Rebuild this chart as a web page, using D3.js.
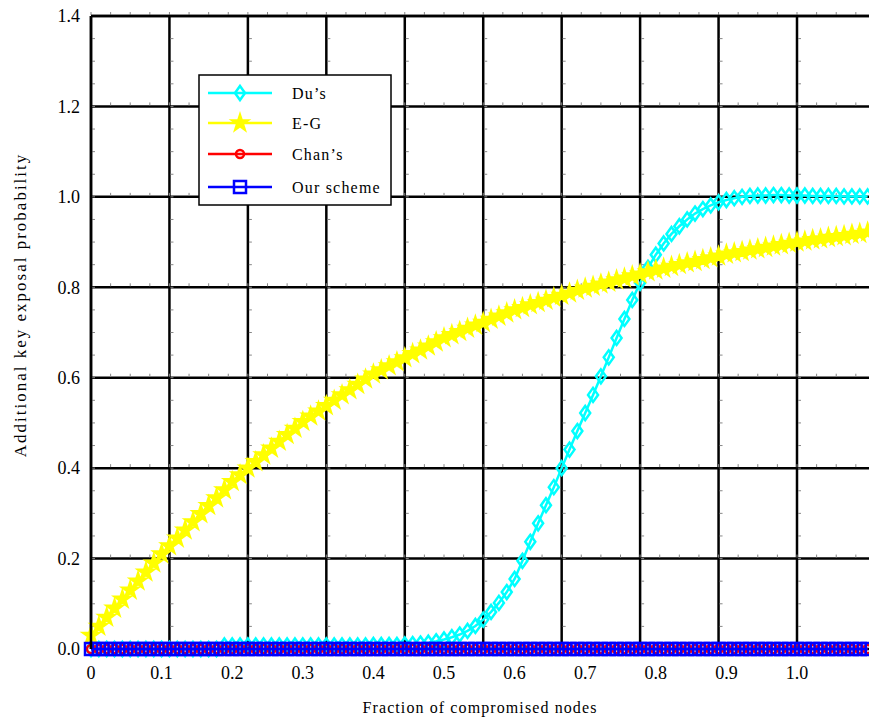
<!DOCTYPE html>
<html>
<head>
<meta charset="utf-8">
<script src="https://cdn.jsdelivr.net/npm/d3@7"></script>
<style>
  body { margin: 0; background: #fff; }
  text { font-family: "Liberation Serif", "Times New Roman", serif; }
</style>
</head>
<body>
<script>

// samples are evenly spaced, 1/90 apart on the x axis (100 points, 0 .. 1.1)
var xValues = d3.range(100).map(i => i / 90);

var dusValues = [
  0, 0, 0, 0, 0, 0, 0, 0, 0, 0,
  0, 0, 0, 0, 0, 0, 0, 0.008, 0.008, 0.008,
  0.008, 0.008, 0.008, 0.008, 0.008, 0.008, 0.008, 0.008, 0.008, 0.008,
  0.008, 0.008, 0.008, 0.008, 0.008, 0.008, 0.009, 0.009, 0.009, 0.009,
  0.010, 0.011, 0.012, 0.014, 0.017, 0.021, 0.026, 0.032, 0.040, 0.051,
  0.065, 0.082, 0.102, 0.126, 0.155, 0.195, 0.237, 0.278, 0.318, 0.358,
  0.400, 0.441, 0.482, 0.522, 0.562, 0.603, 0.645, 0.688, 0.730, 0.772,
  0.810, 0.843, 0.872, 0.897, 0.918, 0.935, 0.950, 0.963, 0.973, 0.981,
  0.988, 0.993, 0.997, 1.000, 1.002, 1.003, 1.003, 1.004, 1.004, 1.003,
  1.003, 1.003, 1.002, 1.002, 1.002, 1.002, 1.001, 1.001, 1.001, 1.001
];

var egValues = [
  0.030, 0.050, 0.070, 0.090, 0.110, 0.130, 0.150, 0.170, 0.190, 0.210,
  0.228, 0.245, 0.263, 0.281, 0.299, 0.317, 0.334, 0.352, 0.370, 0.385,
  0.400, 0.414, 0.429, 0.444, 0.459, 0.474, 0.488, 0.503, 0.515, 0.526,
  0.538, 0.550, 0.562, 0.573, 0.585, 0.597, 0.608, 0.617, 0.626, 0.635,
  0.644, 0.653, 0.661, 0.670, 0.679, 0.688, 0.695, 0.702, 0.709, 0.716,
  0.722, 0.729, 0.736, 0.743, 0.750, 0.755, 0.761, 0.766, 0.771, 0.777,
  0.782, 0.787, 0.793, 0.798, 0.802, 0.807, 0.811, 0.816, 0.820, 0.825,
  0.829, 0.834, 0.838, 0.842, 0.846, 0.850, 0.854, 0.857, 0.861, 0.865,
  0.869, 0.873, 0.876, 0.879, 0.882, 0.885, 0.888, 0.891, 0.894, 0.897,
  0.900, 0.902, 0.905, 0.907, 0.910, 0.912, 0.914, 0.917, 0.919, 0.922
];

var chansValues = [
  0, 0, 0, 0, 0, 0, 0, 0, 0, 0,  0, 0, 0, 0, 0, 0, 0, 0, 0, 0,
  0, 0, 0, 0, 0, 0, 0, 0, 0, 0,  0, 0, 0, 0, 0, 0, 0, 0, 0, 0,
  0, 0, 0, 0, 0, 0, 0, 0, 0, 0,  0, 0, 0, 0, 0, 0, 0, 0, 0, 0,
  0, 0, 0, 0, 0, 0, 0, 0, 0, 0,  0, 0, 0, 0, 0, 0, 0, 0, 0, 0,
  0, 0, 0, 0, 0, 0, 0, 0, 0, 0,  0, 0, 0, 0, 0, 0, 0, 0, 0, 0
];

var oursValues = [
  0, 0, 0, 0, 0, 0, 0, 0, 0, 0,  0, 0, 0, 0, 0, 0, 0, 0, 0, 0,
  0, 0, 0, 0, 0, 0, 0, 0, 0, 0,  0, 0, 0, 0, 0, 0, 0, 0, 0, 0,
  0, 0, 0, 0, 0, 0, 0, 0, 0, 0,  0, 0, 0, 0, 0, 0, 0, 0, 0, 0,
  0, 0, 0, 0, 0, 0, 0, 0, 0, 0,  0, 0, 0, 0, 0, 0, 0, 0, 0, 0,
  0, 0, 0, 0, 0, 0, 0, 0, 0, 0,  0, 0, 0, 0, 0, 0, 0, 0, 0, 0
];

var xTickLabels = [0, 0.1, 0.2, 0.3, 0.4, 0.5, 0.6, 0.7, 0.8, 0.9, 1.0];
var yTickLabels = [0, 0.2, 0.4, 0.6, 0.8, 1.0, 1.2, 1.4];
// vertical grid lines sit at ninths of the 0..1 range
var xGrid = [0, 1/9, 2/9, 3/9, 4/9, 5/9, 6/9, 7/9, 8/9, 1];

var seriesNames = ["Du\u2019s", "E-G", "Chan\u2019s", "Our scheme"];
var seriesColors = ["#00ffff", "#ffff00", "#ff0000", "#0000ff"];

var svgWidth = 869;
var svgHeight = 719;

var margin = { top: 16, right: 0, bottom: 70, left: 91 };
var height = svgHeight - margin.top - margin.bottom;

var svg = d3.select("body")
  .append("svg")
  .attr("width", svgWidth)
  .attr("height", svgHeight);

var chartGroup = svg.append("g")
  .attr("transform", `translate(${margin.left}, ${margin.top})`);

// scales: 0..1 spans 706px, plot runs off the right edge
var xScale = d3.scaleLinear().domain([0, 1]).range([0, 706]);
var yScale = d3.scaleLinear().domain([0, 1.4]).range([height, 0]);
var plotRight = svgWidth - margin.left;

// grid
chartGroup.selectAll(".vgrid")
  .data(xGrid)
  .enter()
  .append("line")
  .attr("x1", d => xScale(d))
  .attr("x2", d => xScale(d))
  .attr("y1", 0)
  .attr("y2", height)
  .attr("stroke", "#000")
  .attr("stroke-width", 2.5);

chartGroup.selectAll(".hgrid")
  .data(yTickLabels)
  .enter()
  .append("line")
  .attr("x1", 0)
  .attr("x2", plotRight)
  .attr("y1", d => yScale(d))
  .attr("y2", d => yScale(d))
  .attr("stroke", "#000")
  .attr("stroke-width", 2.5);

// small minor ticks along the grid
var minorY = d3.range(0, 1.41, 0.05);
xGrid.forEach(function(gx) {
  chartGroup.selectAll(null)
    .data(minorY)
    .enter()
    .append("line")
    .attr("x1", xScale(gx) + 1)
    .attr("x2", xScale(gx) + 4)
    .attr("y1", d => yScale(d))
    .attr("y2", d => yScale(d))
    .attr("stroke", "#888")
    .attr("stroke-width", 1);
});
var minorX = d3.range(0, 1.11, 1 / 36);
yTickLabels.forEach(function(gy) {
  chartGroup.selectAll(null)
    .data(minorX)
    .enter()
    .append("line")
    .attr("x1", d => xScale(d))
    .attr("x2", d => xScale(d))
    .attr("y1", yScale(gy) - 1)
    .attr("y2", yScale(gy) - 4)
    .attr("stroke", "#888")
    .attr("stroke-width", 1);
});

// axis labels
chartGroup.selectAll(".ylab")
  .data(yTickLabels)
  .enter()
  .append("text")
  .attr("x", -11)
  .attr("y", d => yScale(d))
  .attr("dy", "0.35em")
  .attr("text-anchor", "end")
  .style("font-size", "18px")
  .text(d => d.toFixed(1));

chartGroup.selectAll(".xlab")
  .data(xTickLabels)
  .enter()
  .append("text")
  .attr("x", d => xScale(d))
  .attr("y", height + 30)
  .attr("text-anchor", "middle")
  .style("font-size", "18px")
  .text(d => d === 0 ? "0" : d.toFixed(1));

svg.append("text")
  .attr("x", 480)
  .attr("y", 713)
  .attr("text-anchor", "middle")
  .style("font-size", "16px")
  .style("letter-spacing", "1.1px")
  .text("Fraction of compromised nodes");

svg.append("text")
  .attr("transform", "translate(26, 305) rotate(-90)")
  .attr("text-anchor", "middle")
  .style("font-size", "17px")
  .style("letter-spacing", "2px")
  .text("Additional key exposal probability");

// marker drawers
function diamond(sel, color) {
  sel.append("path")
    .attr("d", "M0,-7L5,0L0,7L-5,0Z")
    .attr("fill", "none")
    .attr("stroke", color)
    .attr("stroke-width", 2.5);
}
function star(sel, color) {
  sel.append("path")
    .attr("d", d3.symbol().type(d3.symbolStar).size(85)())
    .attr("fill", color)
    .attr("stroke", color)
    .attr("stroke-width", 2);
}
function hexa(sel, color) {
  sel.append("circle")
    .attr("r", 4)
    .attr("fill", "none")
    .attr("stroke", color)
    .attr("stroke-width", 2.5);
}
function square(sel, color) {
  sel.append("rect")
    .attr("x", -6).attr("y", -6)
    .attr("width", 12).attr("height", 12)
    .attr("fill", "none")
    .attr("stroke", color)
    .attr("stroke-width", 2.5);
}

var allSeries = [dusValues, egValues, chansValues, oursValues];
var markerFns = [diamond, star, hexa, square];

var line = d3.line()
  .x((d, i) => xScale(xValues[i]))
  .y(d => yScale(d));

allSeries.forEach(function(vals, s) {
  chartGroup.append("path")
    .datum(vals)
    .attr("d", line)
    .attr("fill", "none")
    .attr("stroke", seriesColors[s])
    .attr("stroke-width", 2.5);

  var marks = chartGroup.selectAll(null)
    .data(vals)
    .enter()
    .append("g")
    .attr("transform", (d, i) => `translate(${xScale(xValues[i])}, ${yScale(d)})`);
  markerFns[s](marks, seriesColors[s]);
});

// plot frame (left and top)
chartGroup.append("line")
  .attr("x1", 0).attr("x2", 0).attr("y1", 0).attr("y2", height)
  .attr("stroke", "#000").attr("stroke-width", 2.5);
chartGroup.append("line")
  .attr("x1", 0).attr("x2", plotRight).attr("y1", 0).attr("y2", 0)
  .attr("stroke", "#000").attr("stroke-width", 2.5);

// legend
var legend = svg.append("g");
legend.append("rect")
  .attr("x", 199)
  .attr("y", 75)
  .attr("width", 192)
  .attr("height", 130)
  .attr("fill", "#fff")
  .attr("stroke", "#000")
  .attr("stroke-width", 1.5);

var legendY = [93, 123, 154, 187];
seriesNames.forEach(function(name, s) {
  var row = legend.append("g")
    .attr("transform", `translate(0, ${legendY[s]})`);
  row.append("line")
    .attr("x1", 208).attr("x2", 272)
    .attr("stroke", seriesColors[s])
    .attr("stroke-width", 2.5);
  var m = row.append("g").attr("transform", "translate(240, 0)");
  markerFns[s](m, seriesColors[s]);
  row.append("text")
    .attr("x", 292)
    .attr("dy", "0.35em")
    .style("font-size", "16px")
    .style("letter-spacing", "1.2px")
    .text(name);
});

</script>
</body>
</html>
